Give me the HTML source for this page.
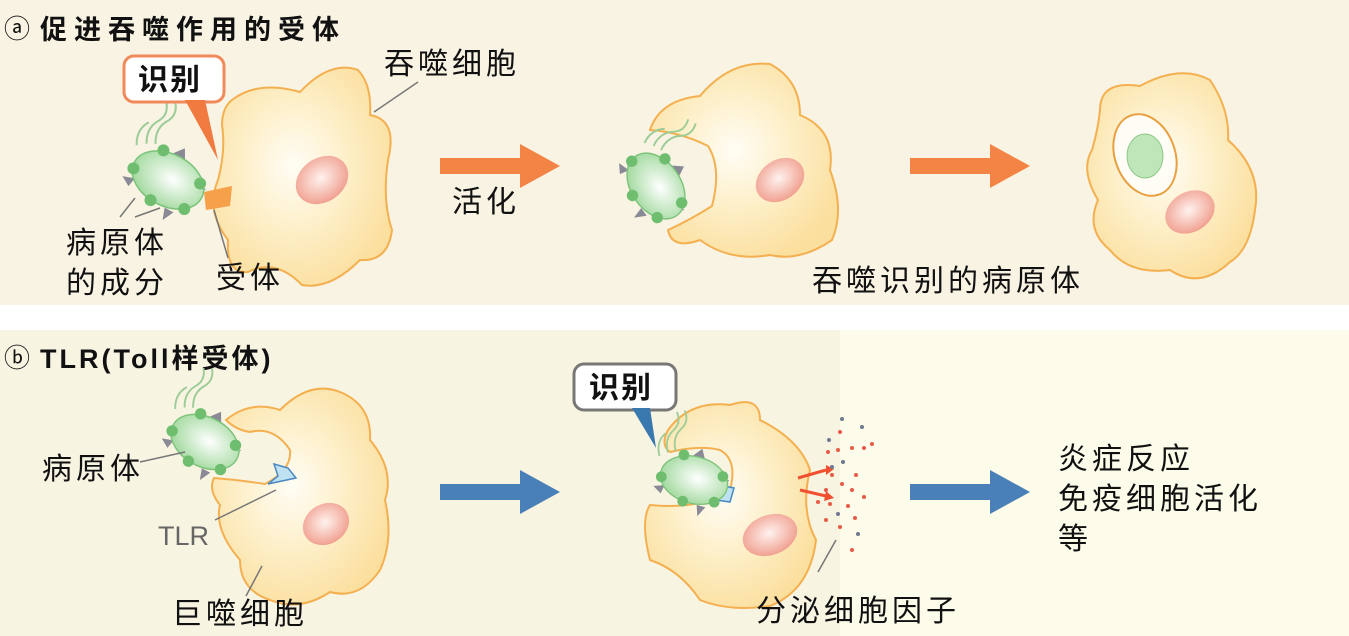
<!DOCTYPE html>
<html><head><meta charset="utf-8"><style>
html,body{margin:0;padding:0;background:#fff}
svg{display:block}
text{font-family:"Liberation Sans","Noto Sans CJK SC",sans-serif;fill:#111;font-size:30px;letter-spacing:4px}
.b{font-weight:bold}
.t{font-size:27px;letter-spacing:7px}
</style></head><body>
<svg width="1349" height="636" viewBox="0 0 1349 636">
<defs>
<radialGradient id="cell" cx="0.45" cy="0.45" r="0.6"><stop offset="0" stop-color="#fffdf5"/><stop offset="0.5" stop-color="#fdefc8"/><stop offset="1" stop-color="#fbdf9e"/></radialGradient>
<radialGradient id="nuc" cx="0.5" cy="0.45" r="0.55"><stop offset="0" stop-color="#fff2ee"/><stop offset="1" stop-color="#f0a090"/></radialGradient>
<radialGradient id="bac" cx="0.55" cy="0.45" r="0.6"><stop offset="0" stop-color="#ffffff"/><stop offset="1" stop-color="#9ed89a"/></radialGradient>
<g id="bug">
<path d="M-36,-22 q-8,-14 0,-26 q6,-10 -2,-20 M-28,-26 q-8,-14 0,-26 q6,-10 -2,-20 M-44,-16 q-8,-14 0,-26" stroke="#9ccc98" stroke-width="2" fill="none"/>
<polygon points="-8,-26 0,-36 6,-25" fill="#8a8a96"/><polygon points="26,-8 38,-10 30,2" fill="#8a8a96"/><polygon points="-30,14 -42,18 -32,24" fill="#8a8a96"/><polygon points="10,26 14,38 20,26" fill="#8a8a96"/>
<ellipse cx="0" cy="0" rx="38" ry="26" fill="url(#bac)" stroke="#7cc37a" stroke-width="1.5"/>
<circle cx="-18" cy="-24" r="6" fill="#6fbe70"/><circle cx="30" cy="-12" r="6" fill="#6fbe70"/><circle cx="-36" cy="6" r="6" fill="#6fbe70"/><circle cx="-6" cy="26" r="6" fill="#6fbe70"/><circle cx="28" cy="18" r="6" fill="#6fbe70"/>
</g>
</defs>
<rect x="0" y="0" width="1349" height="305" fill="#f8f3e2"/>
<rect x="0" y="330" width="840" height="306" fill="#f8f4e2"/>
<rect x="840" y="330" width="509" height="306" fill="#fdfbea"/>

<!-- panel a -->
<text x="4" y="38" style="font-size:26px;letter-spacing:0">ⓐ</text>
<text x="40" y="39" class="b t">促进吞噬作用的受体</text>

<g>
<path d="M232,100 Q258,80 300,92 Q330,60 358,70 Q372,85 370,115 Q398,120 388,160 Q382,200 392,230 Q388,262 360,260 Q330,290 302,285 Q276,258 248,272 Q226,274 228,240 Q205,210 218,180 Q226,150 222,125 Q222,108 232,100Z" fill="url(#cell)" stroke="#f4b050" stroke-width="2"/>
<ellipse cx="322" cy="180" rx="28" ry="22" transform="rotate(-35 322 180)" fill="url(#nuc)"/>
</g>
<polygon points="204,192 232,186 230,206 206,210" fill="#f6a04a"/>
<use href="#bug" transform="translate(168,180) rotate(28)"/>
<rect x="124" y="56" width="100" height="46" rx="10" fill="#fff" stroke="#f08a5a" stroke-width="3"/>
<polygon points="185,100 205,100 218,160" fill="#f07a40"/>
<text x="138" y="90" class="b" style="letter-spacing:2px">识别</text>
<line x1="374" y1="112" x2="418" y2="82" stroke="#777" stroke-width="1.5"/>
<text x="384" y="74">吞噬细胞</text>
<line x1="135" y1="217" x2="160" y2="208" stroke="#777" stroke-width="1.5"/><line x1="120" y1="217" x2="135" y2="198" stroke="#777" stroke-width="1.5"/>
<text x="66" y="253">病原体</text>
<text x="66" y="293">的成分</text>
<line x1="228" y1="258" x2="214" y2="210" stroke="#777" stroke-width="1.5"/>
<text x="216" y="288">受体</text>

<polygon points="440,158 520,158 520,144 560,166 520,188 520,174 440,174" fill="#f48446"/>
<text x="452" y="212">活化</text>

<g>
<path d="M650,130 Q660,100 700,96 Q730,60 770,64 Q800,80 800,115 Q836,130 830,170 Q845,210 832,240 Q800,262 770,255 Q730,262 700,240 Q672,250 668,230 Q690,220 712,206 Q722,168 708,146 Q680,132 650,130Z" fill="url(#cell)" stroke="#f4b050" stroke-width="2"/>
<ellipse cx="780" cy="180" rx="26" ry="20" transform="rotate(-35 780 180)" fill="url(#nuc)"/>
</g>
<use href="#bug" transform="translate(656,186) rotate(55) scale(0.95)"/>
<polygon points="910,158 990,158 990,144 1030,166 990,188 990,174 910,174" fill="#f48446"/>

<g>
<path d="M1100,110 Q1100,80 1140,86 Q1180,64 1210,80 Q1230,110 1228,140 Q1262,170 1255,210 Q1250,250 1230,262 Q1200,290 1170,270 Q1130,275 1110,250 Q1085,230 1098,200 Q1080,170 1092,150 Q1098,130 1100,110Z" fill="url(#cell)" stroke="#f4b050" stroke-width="2"/>
<ellipse cx="1190" cy="212" rx="26" ry="20" transform="rotate(-30 1190 212)" fill="url(#nuc)"/>
<ellipse cx="1145" cy="155" rx="30" ry="42" transform="rotate(-20 1145 155)" fill="#fffdf5" stroke="#e8a040" stroke-width="2"/>
<ellipse cx="1145" cy="156" rx="18" ry="22" fill="#bfe6b8" stroke="#8cc888"/>
</g>
<text x="812" y="291">吞噬识别的病原体</text>

<!-- panel b -->
<text x="4" y="367" style="font-size:26px;letter-spacing:0">ⓑ</text>
<text x="40" y="368" class="b t" style="letter-spacing:3px">TLR(Toll样受体)</text>

<g>
<path d="M226,420 Q250,400 280,410 Q310,380 340,392 Q372,405 370,440 Q395,470 385,500 Q394,540 380,570 Q360,600 330,592 Q300,612 270,600 Q240,590 240,560 Q214,530 220,505 Q208,490 214,478 Q240,480 265,484 Q292,470 290,450 Q274,426 250,432 Q236,430 226,420Z" fill="url(#cell)" stroke="#f4b050" stroke-width="2"/>
<ellipse cx="326" cy="524" rx="24" ry="20" transform="rotate(-30 326 524)" fill="url(#nuc)"/>
<path d="M268,484 l10,-8 l-4,-12 l14,4 l8,10 z" fill="#bfe2f2" stroke="#4a88c0" stroke-width="1.5"/>
</g>
<use href="#bug" transform="translate(205,442) rotate(28) scale(0.95)"/>
<line x1="140" y1="462" x2="185" y2="452" stroke="#777" stroke-width="1.5"/>
<text x="42" y="479">病原体</text>
<line x1="215" y1="520" x2="276" y2="490" stroke="#777" stroke-width="1.5"/>
<text x="158" y="545" style="fill:#666;font-size:27px;letter-spacing:0">TLR</text>
<line x1="246" y1="596" x2="262" y2="566" stroke="#777" stroke-width="1.5"/>
<text x="172" y="624">巨噬细胞</text>

<polygon points="440,484 520,484 520,470 560,492 520,514 520,500 440,500" fill="#4a80b8"/>

<g>
<path d="M668,430 Q690,400 730,405 Q760,395 760,420 Q800,440 810,470 Q800,510 816,540 Q810,590 770,606 Q730,612 700,600 Q680,570 650,560 Q640,520 650,505 Q700,510 730,490 Q738,460 720,450 Q700,445 670,452 Q660,445 668,430Z" fill="url(#cell)" stroke="#f4b050" stroke-width="2"/>
<ellipse cx="770" cy="535" rx="28" ry="20" transform="rotate(-20 770 535)" fill="url(#nuc)"/>
<path d="M716,500 l8,-14 l10,2 l-4,14 z" fill="#bfe2f2" stroke="#4a88c0" stroke-width="1.5"/>
</g>
<use href="#bug" transform="translate(694,480) rotate(15) scale(0.9)"/>
<rect x="574" y="364" width="102" height="46" rx="10" fill="#fff" stroke="#777" stroke-width="3"/>
<polygon points="632,408 650,408 656,448" fill="#3a78b0"/>
<text x="589" y="398" class="b" style="letter-spacing:2px">识别</text>
<g>
<line x1="798" y1="478" x2="826" y2="470" stroke="#f05030" stroke-width="3"/><polygon points="826,465 834,469 826,475" fill="#f05030"/>
<line x1="800" y1="490" x2="826" y2="496" stroke="#f05030" stroke-width="3"/><polygon points="826,491 834,498 824,501" fill="#f05030"/>
<g fill="#e85a46">
<circle cx="840" cy="432" r="2"/><circle cx="838" cy="450" r="2"/><circle cx="852" cy="448" r="2"/><circle cx="864" cy="448" r="2"/><circle cx="872" cy="444" r="2"/><circle cx="828" cy="452" r="2"/><circle cx="832" cy="475" r="2"/><circle cx="856" cy="475" r="2"/><circle cx="842" cy="484" r="2"/><circle cx="852" cy="490" r="2"/><circle cx="864" cy="497" r="2"/><circle cx="826" cy="490" r="2"/><circle cx="818" cy="502" r="2"/><circle cx="830" cy="504" r="2"/><circle cx="848" cy="506" r="2"/><circle cx="826" cy="520" r="2"/><circle cx="855" cy="518" r="2"/><circle cx="840" cy="527" r="2"/><circle cx="852" cy="550" r="2"/>
</g>
<g fill="#707890"><circle cx="842" cy="419" r="2"/><circle cx="862" cy="427" r="2"/><circle cx="829" cy="440" r="2"/><circle cx="843" cy="462" r="2"/><circle cx="832" cy="467" r="2"/><circle cx="838" cy="514" r="2"/><circle cx="858" cy="534" r="2"/></g>
</g>
<line x1="818" y1="572" x2="836" y2="540" stroke="#777" stroke-width="1.5"/>
<text x="756" y="621">分泌细胞因子</text>

<polygon points="910,484 990,484 990,470 1030,492 990,514 990,500 910,500" fill="#4a80b8"/>
<text x="1058" y="469">炎症反应</text>
<text x="1058" y="509">免疫细胞活化</text>
<text x="1058" y="549">等</text>
</svg>
</body></html>
